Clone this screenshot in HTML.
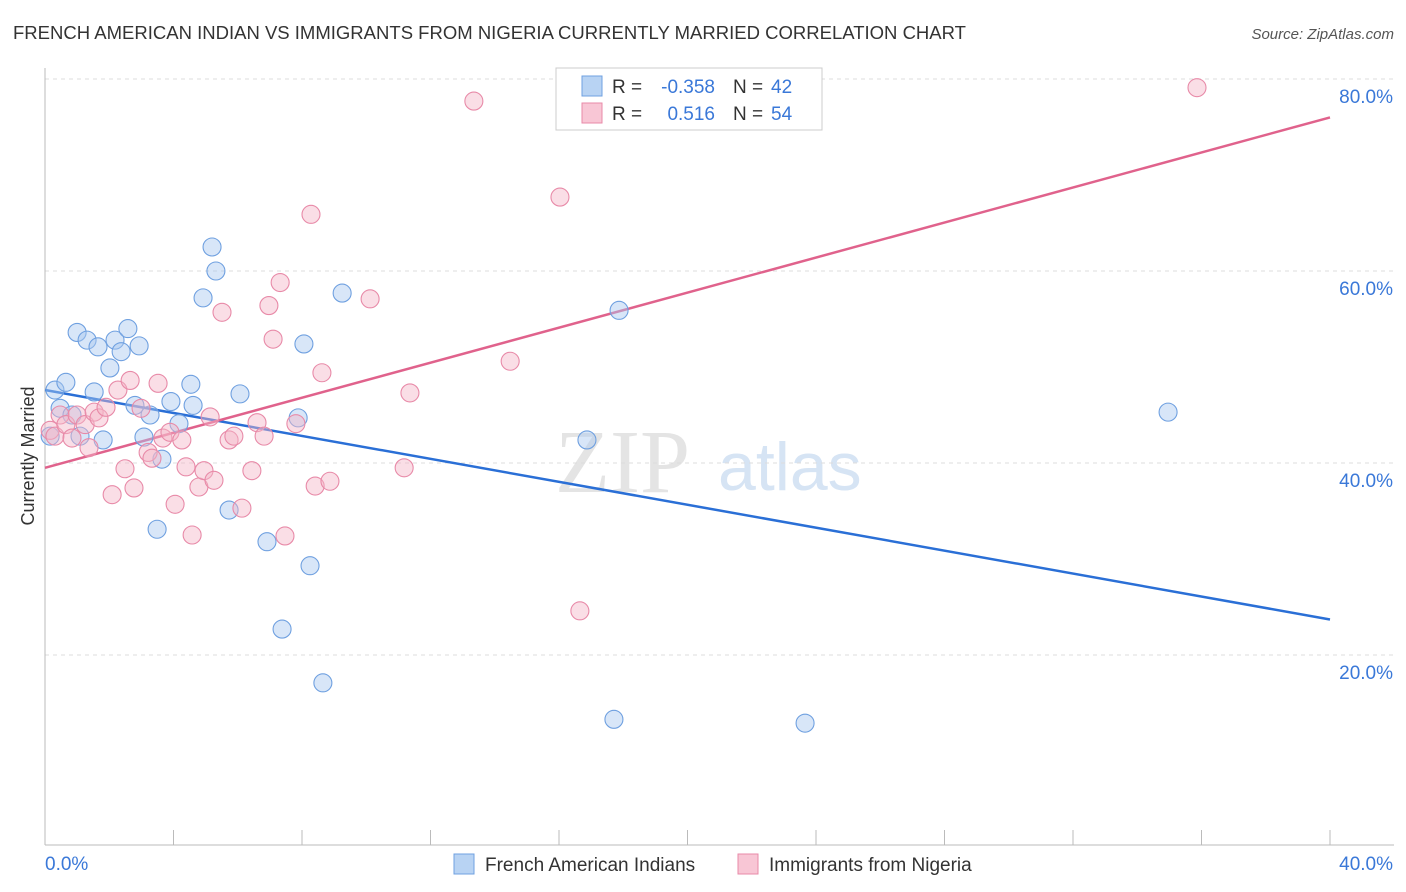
<!DOCTYPE html>
<html><head><meta charset="utf-8"><style>
body{margin:0;background:#fff;font-family:"Liberation Sans",sans-serif;}
svg{display:block}
</style></head><body>
<svg id="chart" width="1406" height="892" xmlns="http://www.w3.org/2000/svg">
<text x="13" y="39" font-size="18" fill="#333" textLength="953" lengthAdjust="spacingAndGlyphs">FRENCH AMERICAN INDIAN VS IMMIGRANTS FROM NIGERIA CURRENTLY MARRIED CORRELATION CHART</text>
<text x="1394" y="39" font-size="15" fill="#555" font-style="italic" text-anchor="end">Source: ZipAtlas.com</text>
<g><text x="555" y="492" font-size="90" fill="#e4e4e4" font-family="Liberation Serif">ZIP</text><text x="718" y="490" font-size="68" fill="#d6e4f4">atlas</text></g>
<g id="grid"></g>
<g id="axes"></g>
<g id="lines"></g>
<g id="points"></g>
<text transform="translate(34,456) rotate(-90)" font-size="18" fill="#333" text-anchor="middle">Currently Married</text>
<g>
<rect x="556" y="68" width="266" height="62" fill="#fff" stroke="#ccc"/>
<rect x="582" y="76" width="20" height="20" fill="#b8d3f3" stroke="#6fa0e0"/>
<rect x="582" y="103" width="20" height="20" fill="#f8c6d5" stroke="#e88aa8"/>
<text x="612" y="93" font-size="19" fill="#333">R =</text>
<text x="715" y="93" font-size="19" fill="#3a78d8" text-anchor="end">-0.358</text>
<text x="733" y="93" font-size="19" fill="#333">N =</text>
<text x="771" y="93" font-size="19" fill="#3a78d8">42</text>
<text x="612" y="120" font-size="19" fill="#333">R =</text>
<text x="715" y="120" font-size="19" fill="#3a78d8" text-anchor="end">0.516</text>
<text x="733" y="120" font-size="19" fill="#333">N =</text>
<text x="771" y="120" font-size="19" fill="#3a78d8">54</text>
</g>
<g>
<rect x="454" y="854" width="20" height="20" fill="#b8d3f3" stroke="#6fa0e0"/>
<text x="485" y="871" font-size="19" fill="#333">French American Indians</text>
<rect x="738" y="854" width="20" height="20" fill="#f8c6d5" stroke="#e88aa8"/>
<text x="769" y="871" font-size="19" fill="#333">Immigrants from Nigeria</text>
</g>
</svg>
<script>
const xTicksLabels=["0.0%","40.0%"];
const yTicks=[20,40,60,80];
const blueX=[0.31,0.65,0.47,0.84,1.09,1.81,1.00,1.31,1.65,1.53,2.02,2.18,2.37,2.58,2.93,2.80,3.27,3.08,3.64,3.49,3.92,4.17,4.54,4.61,4.92,5.20,5.32,5.73,6.07,6.91,7.38,7.88,8.06,8.25,8.65,9.25,16.87,17.71,17.87,23.66,34.96,0.16];
const blueY=[47.6,48.4,45.7,45.0,42.8,42.4,53.6,52.8,52.1,47.4,49.9,52.8,51.6,54.0,52.2,46.0,45.0,42.7,40.4,33.1,46.4,44.1,48.2,46.0,57.2,62.5,60.0,35.1,47.2,31.8,22.7,44.7,52.4,29.3,17.1,57.7,42.4,13.3,55.9,12.9,45.3,42.8];
const pinkX=[0.16,0.31,0.47,0.65,0.84,1.00,1.25,1.37,1.53,1.68,1.90,2.09,2.27,2.49,2.65,2.77,2.99,3.21,3.33,3.52,3.67,3.89,4.05,4.26,4.39,4.58,4.79,4.95,5.14,5.26,5.51,5.73,5.88,6.13,6.44,6.60,6.82,6.97,7.10,7.32,7.47,7.81,8.28,8.41,8.62,8.87,10.12,11.18,11.36,13.35,14.48,16.03,16.65,35.86];
const pinkY=[43.4,42.8,45.0,44.0,42.6,45.0,44.0,41.6,45.3,44.7,45.8,36.7,47.6,39.4,48.6,37.4,45.7,41.1,40.5,48.3,42.6,43.2,35.7,42.4,39.6,32.5,37.5,39.2,44.8,38.2,55.7,42.4,42.8,35.3,39.2,44.2,42.8,56.4,52.9,58.8,32.4,44.1,65.9,37.6,49.4,38.1,57.1,39.5,47.3,77.7,50.6,67.7,24.6,79.1];
const blueTrend=[47.6,23.7];
const pinkTrend=[39.5,76.0];
const NS="http://www.w3.org/2000/svg";
const X0=45,X1=1330,Y0=847;
const sx=v=>X0+v/40*(X1-X0);
const sy=v=>Y0-v/20*192;
function mk(tag,attrs,parent){const e=document.createElementNS(NS,tag);for(const k in attrs)e.setAttribute(k,attrs[k]);document.getElementById(parent).appendChild(e);return e;}
yTicks.forEach(t=>{
  const g=mk('line',{x1:X0,x2:1394,y1:sy(t),y2:sy(t),stroke:'#ddd','stroke-dasharray':'4,4'},'grid');
  
  
  const l=mk('text',{x:1393,y:sy(t)+24,'font-size':19,fill:'#3a78d8','text-anchor':'end'},'axes');
  l.textContent=t.toFixed(1)+'%';
  
  
});
const ax=mk('line',{x1:X0,x2:X0,y1:68,y2:845,stroke:'#bbb'},'axes');


const bx=mk('line',{x1:X0,x2:1394,y1:845,y2:845,stroke:'#bbb'},'axes');


for(let i=0;i<=10;i++){const t=mk('line',{x1:sx(i*4),x2:sx(i*4),y1:830,y2:845,stroke:'#bbb'},'axes');
  
  }
const xl0=mk('text',{x:45,y:870,'font-size':19,fill:'#3a78d8'},'axes');xl0.textContent=xTicksLabels[0];


const xl1=mk('text',{x:1393,y:870,'font-size':19,fill:'#3a78d8','text-anchor':'end'},'axes');xl1.textContent=xTicksLabels[1];


function pts(xs,ys,fill,stroke,name){xs.forEach((x,i)=>{const c=mk('circle',{cx:sx(x),cy:sy(ys[i]),r:9,fill:fill,'fill-opacity':0.45,stroke:stroke,'stroke-width':1.1},'points');
  
  });}
pts(blueX,blueY,'#a9c8f0','#6fa0e0','french-american-indian-point');
pts(pinkX,pinkY,'#f4b5c8','#e88aa8','nigeria-immigrant-point');
const bl=mk('line',{x1:sx(0),y1:sy(blueTrend[0]),x2:sx(40),y2:sy(blueTrend[1]),stroke:'#2a6fd6','stroke-width':2.5},'lines');


const pl=mk('line',{x1:sx(0),y1:sy(pinkTrend[0]),x2:sx(40),y2:sy(pinkTrend[1]),stroke:'#e0628c','stroke-width':2.5},'lines');


</script>
</body></html>
